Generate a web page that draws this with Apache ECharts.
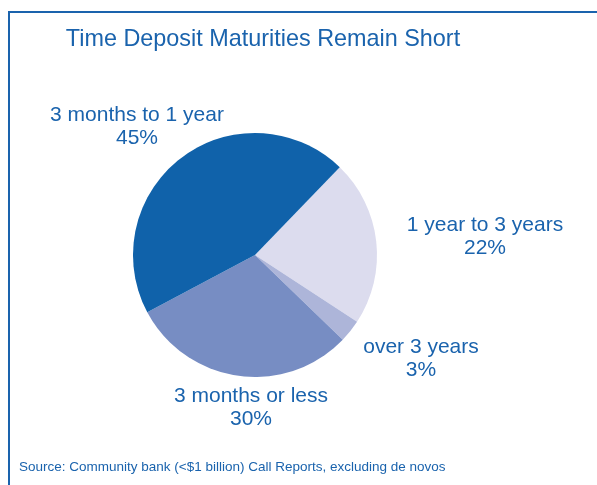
<!doctype html>
<html lang="en">
<head>
    <meta charset="UTF-8">
    <script src="https://cdn.jsdelivr.net/npm/echarts@6/dist/echarts.min.js"></script>
    <title>Time Deposit Maturities Remain Short</title>
    <style>
        html, body { margin: 0; padding: 0; background: #fff; }
    </style>
</head>
<body>
<div id="main" style="width: 597px;height:485px;"></div>
<script>
    // data
    var categories = ['1 year to 3 years', 'over 3 years', '3 months or less', '3 months to 1 year'];
    var shares = [22, 3, 30, 45];
    var sliceColors = ['#DCDCEE', '#ADB5D9', '#778DC3', '#1062AA'];
    // where each label sits (px, centre of the two lines)
    var labelPos = [[485, 237], [421, 359], [251, 408], [137, 127]];

    var blue = '#1A63AD';
    var font = '"Liberation Sans", Arial, sans-serif';
    var myChart = echarts.init(document.getElementById('main'));

    var pieData = [];
    for (var i = 0; i < categories.length; i++) {
        pieData.push({ name: categories[i], value: shares[i], itemStyle: { color: sliceColors[i] } });
    }

    var option = {
        animation: false,
        graphic: [{
            type: 'rect',
            shape: { x: 9, y: 12, width: 700, height: 600 },
            style: { fill: 'none', stroke: blue, lineWidth: 2 }
        }, {
            type: 'text',
            x: 263,
            y: 40,
            style: {
                text: 'Time Deposit Maturities Remain Short',
                fill: blue,
                font: '23.4px ' + font,
                align: 'center',
                verticalAlign: 'middle'
            }
        }, {
            type: 'text',
            x: 19,
            y: 467,
            style: {
                text: 'Source: Community bank (<$1 billion) Call Reports, excluding de novos',
                fill: blue,
                font: '13.5px ' + font,
                verticalAlign: 'middle'
            }
        }],
        series: [{
            type: 'pie',
            center: [255, 255],
            radius: 122,
            startAngle: 46,
            clockwise: true,
            data: pieData,
            itemStyle: { borderWidth: 0 },
            emphasis: { disabled: true },
            label: {
                show: true,
                position: 'outside',
                formatter: function (p) { return p.name + '\n' + p.value + '%'; },
                color: blue,
                fontFamily: font,
                fontSize: 21,
                lineHeight: 23,
                align: 'center',
                overflow: 'none',
                width: 300
            },
            labelLine: { show: false },
            labelLayout: function (params) {
                var p = labelPos[params.dataIndex];
                return { x: p[0], y: p[1], align: 'center', verticalAlign: 'middle' };
            }
        }]
    };

    myChart.setOption(option);
</script>
</body>
</html>
